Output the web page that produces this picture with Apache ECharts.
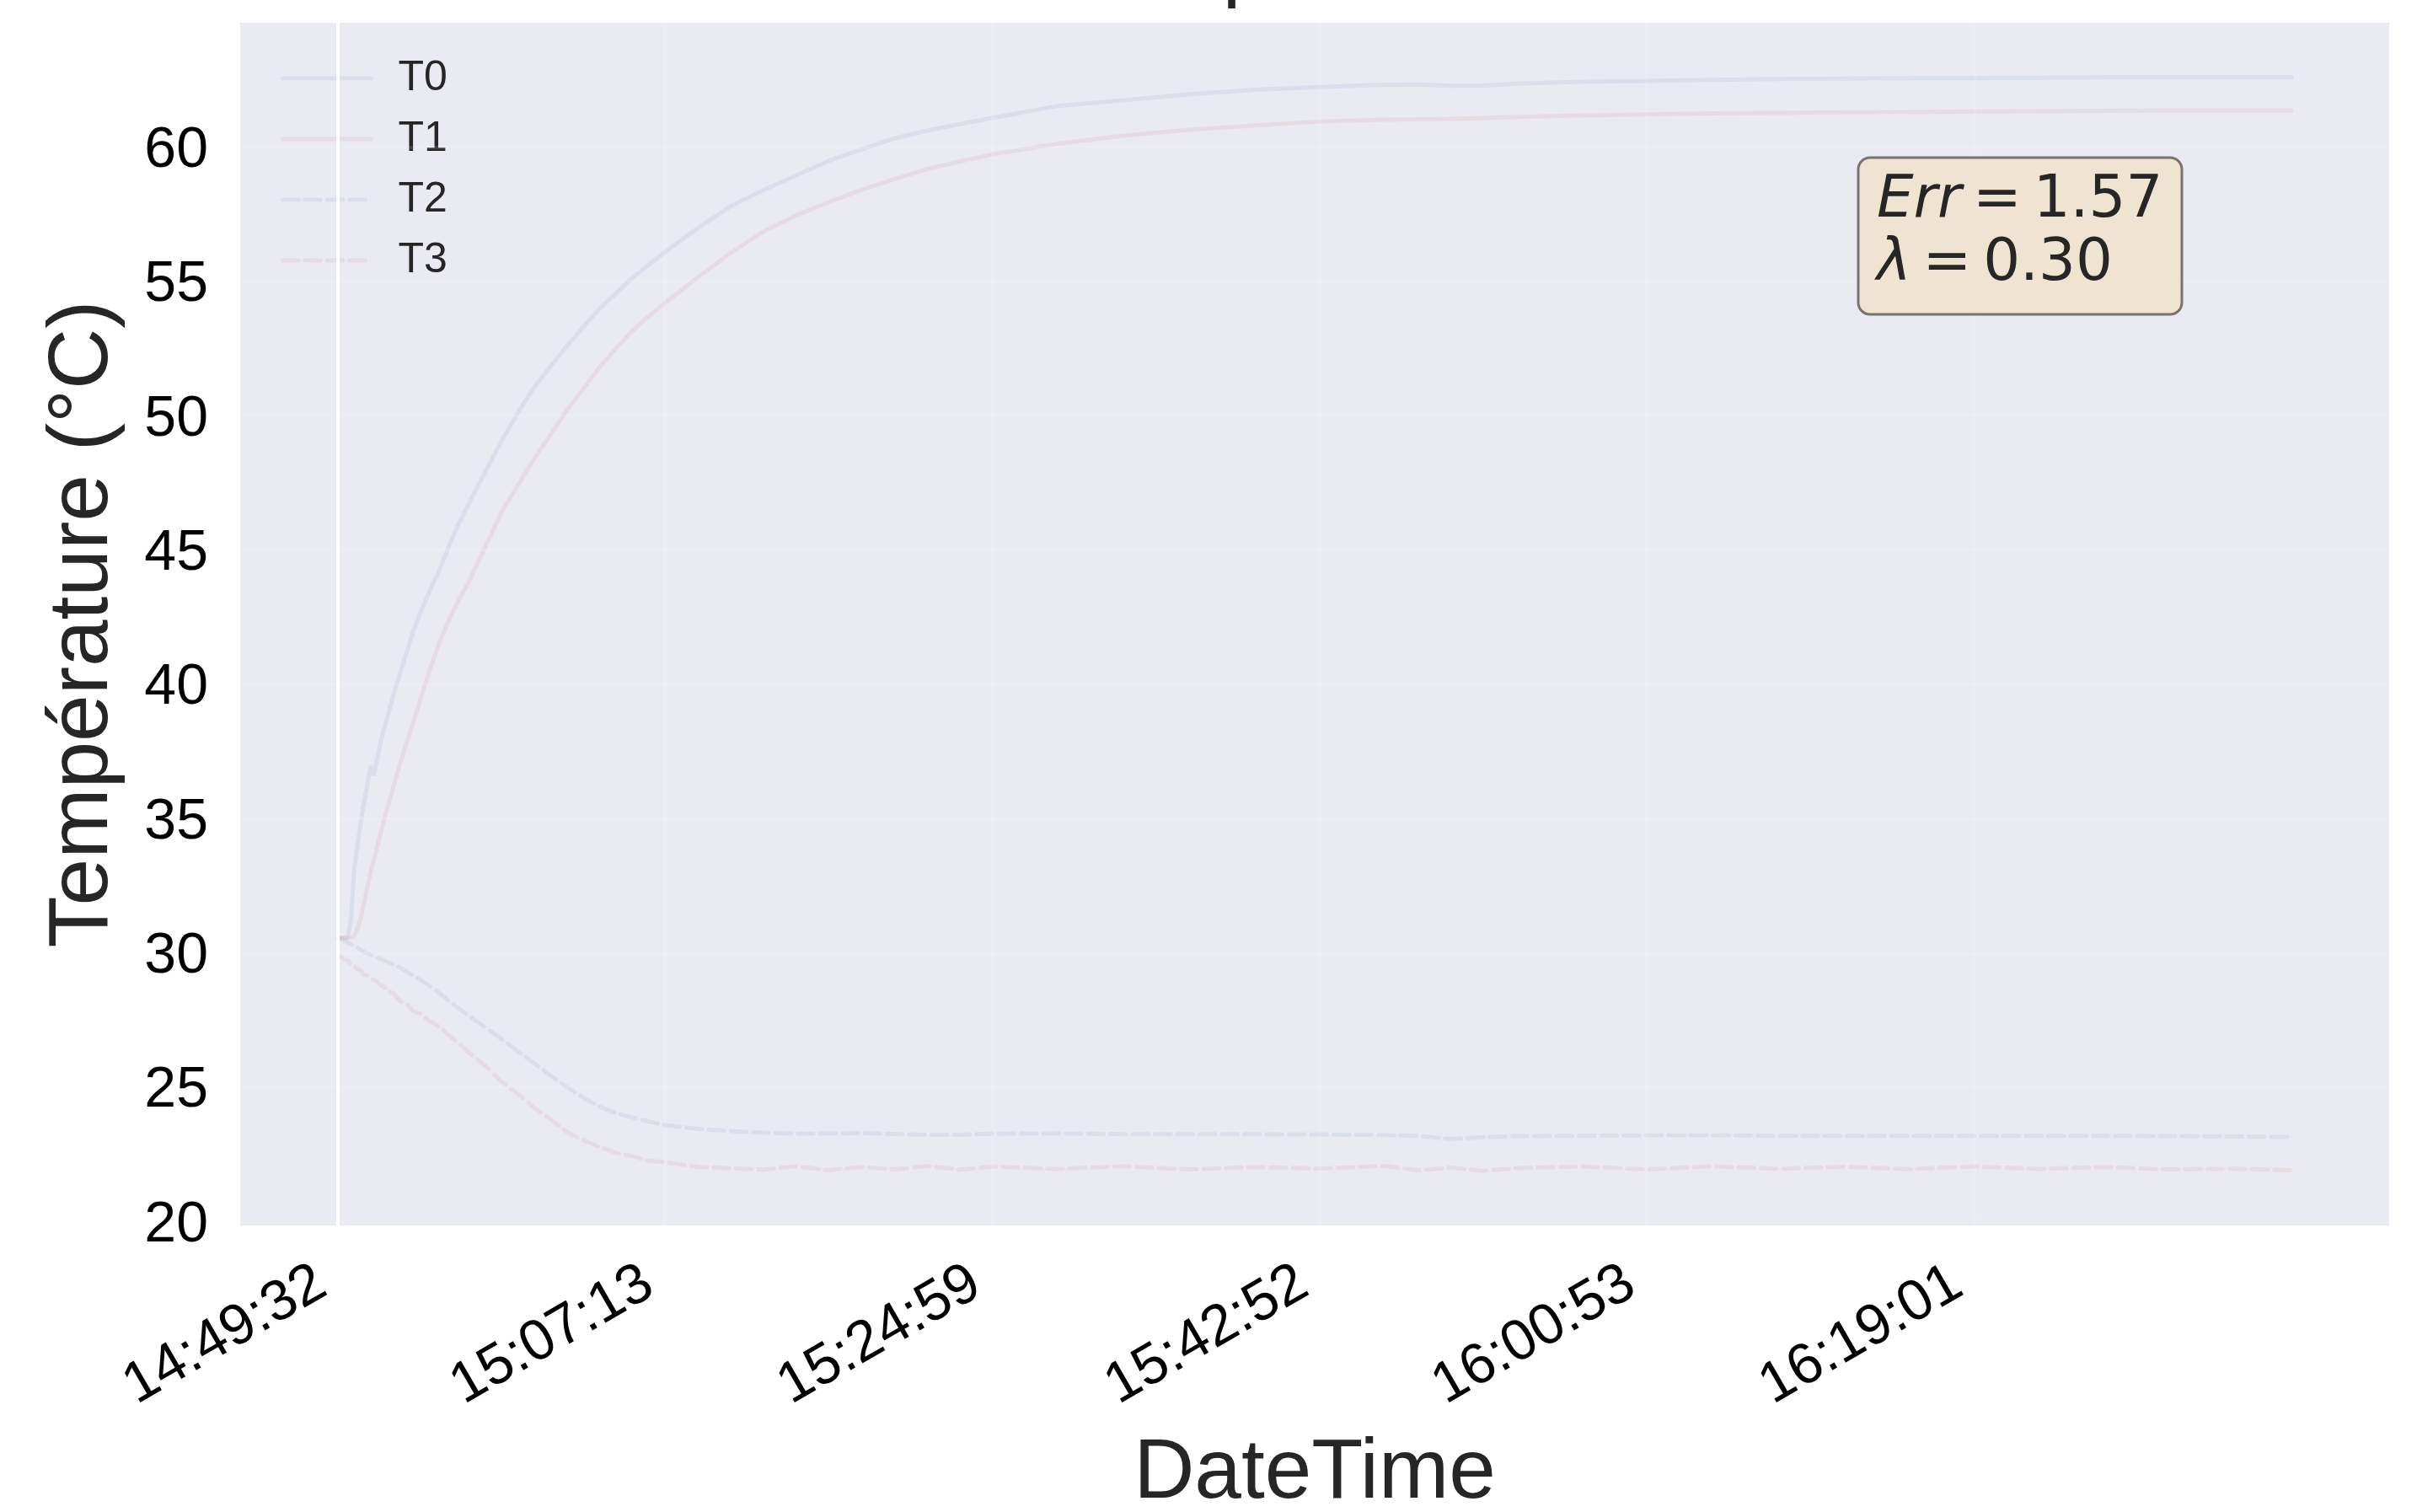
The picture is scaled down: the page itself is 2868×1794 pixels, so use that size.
<!DOCTYPE html>
<html>
<head>
<meta charset="utf-8">
<script src="https://cdn.jsdelivr.net/npm/echarts@6/dist/echarts.min.js"></script>
<style>
  html, body { margin: 0; padding: 0; background: #ffffff; }
  #chart { width: 2868px; height: 1794px; }
</style>
</head>
<body>
<div id="chart"></div>
<script>
// Sample index along the run (one tick label every 100 samples)
const sampleIdx = [0, 2, 3, 4, 5, 6, 7, 8, 9, 10,
  11, 12, 13, 14, 15, 17, 19, 21, 23, 25,
  28, 31, 34, 37, 40, 45, 50, 55, 60, 65,
  70, 75, 80, 85, 90, 95, 100, 110, 120, 130,
  140, 150, 160, 170, 180, 190, 200, 220, 240, 260,
  280, 300, 320, 330, 340, 350, 360, 380, 400, 420,
  440, 460, 480, 500, 520, 540, 560, 580, 597];

// Temperatures (°C)
const T0 = [30.55, 30.55, 30.55, 31.25, 33.1, 34.0, 34.85, 35.6, 36.25, 36.95,
  36.6, 37.2, 37.8, 38.3, 38.7, 39.6, 40.4, 41.2, 41.95, 42.6,
  43.45, 44.25, 45.15, 46.0, 46.72, 47.9, 49.05, 50.1, 51.06, 51.83,
  52.59, 53.3, 53.98, 54.55, 55.13, 55.62, 56.09, 56.98, 57.79, 58.39,
  58.94, 59.48, 59.91, 60.32, 60.61, 60.85, 61.08, 61.53, 61.74, 61.96,
  62.13, 62.23, 62.32, 62.33, 62.28, 62.29, 62.36, 62.43, 62.46, 62.5,
  62.53, 62.55, 62.56, 62.57, 62.58, 62.59, 62.59, 62.59, 62.59];

const T1 = [30.55, 30.55, 30.55, 30.56, 30.62, 30.9, 31.3, 31.85, 32.42, 33.0,
  33.45, 33.93, 34.42, 34.9, 35.33, 36.2, 37.03, 37.8, 38.57, 39.35,
  40.52, 41.55, 42.4, 43.15, 43.8, 45.1, 46.4, 47.4, 48.4, 49.3,
  50.2, 51.0, 51.8, 52.5, 53.15, 53.7, 54.2, 55.15, 56.05, 56.85,
  57.45, 57.95, 58.4, 58.8, 59.18, 59.46, 59.72, 60.12, 60.42, 60.64,
  60.8, 60.95, 61.02, 61.03, 61.05, 61.08, 61.12, 61.17, 61.21, 61.25,
  61.27, 61.29, 61.3, 61.32, 61.33, 61.35, 61.36, 61.36, 61.36];

const T2 = [30.55, 30.45, 30.38, 30.32, 30.25, 30.18, 30.11, 30.04, 29.97, 29.92,
  29.87, 29.82, 29.77, 29.72, 29.66, 29.55, 29.44, 29.3, 29.15, 29.0,
  28.77, 28.5, 28.2, 27.92, 27.65, 27.22, 26.79, 26.33, 25.88, 25.42,
  25.0, 24.6, 24.27, 24.02, 23.86, 23.72, 23.58, 23.44, 23.36, 23.3,
  23.26, 23.27, 23.28, 23.25, 23.22, 23.22, 23.26, 23.27, 23.24, 23.24,
  23.24, 23.23, 23.21, 23.18, 23.06, 23.13, 23.17, 23.18, 23.2, 23.2,
  23.18, 23.18, 23.18, 23.18, 23.18, 23.18, 23.17, 23.16, 23.14];

const T3 = [29.95, 29.75, 29.72, 29.55, 29.52, 29.38, 29.35, 29.18, 29.15, 29.05,
  28.98, 28.92, 28.78, 28.75, 28.6, 28.48, 28.2, 28.1, 27.82, 27.75,
  27.45, 27.25, 26.92, 26.62, 26.28, 25.8, 25.2, 24.75, 24.22, 23.8,
  23.32, 23.02, 22.76, 22.55, 22.42, 22.25, 22.2, 22.02, 21.98, 21.92,
  22.05, 21.9, 22.02, 21.93, 22.06, 21.92, 22.04, 21.95, 22.05, 21.93,
  22.02, 21.96, 22.06, 21.9, 22.0, 21.88, 21.98, 22.04, 21.93, 22.05,
  21.95, 22.03, 21.94, 22.04, 21.95, 22.02, 21.93, 21.96, 21.9];

const seriesNames = ['T0', 'T1', 'T2', 'T3'];
const tickIdx = [0, 100, 200, 300, 400, 500];
const tickLabels = ['14:49:32', '15:07:13', '15:24:59', '15:42:52', '16:00:53', '16:19:01'];
const yTicks = [20, 25, 30, 35, 40, 45, 50, 55, 60];
const errValue = '1.57';
const lambdaValue = '0.30';

// Axis limits: data range plus a 5 % margin on each side
const allY = T0.concat(T1, T2, T3);
const yLo = Math.min(...allY), yHi = Math.max(...allY);
const yPad = 0.05 * (yHi - yLo);
const xLo = sampleIdx[0], xHi = sampleIdx[sampleIdx.length - 1];
const xPad = 0.05 * (xHi - xLo);

const SANS = '"Liberation Sans", Arial, sans-serif';
const MATH = '"DejaVu Sans", sans-serif';
const pairs = vals => sampleIdx.map((x, i) => [x, vals[i]]);

const lineDefs = [
  { name: 'T0', values: T0, color: 'rgba(76,114,176,0.10)', type: 'solid' },
  { name: 'T1', values: T1, color: 'rgba(196,78,82,0.09)', type: 'solid' },
  { name: 'T2', values: T2, color: 'rgba(76,114,176,0.10)', type: [18.5, 8] },
  { name: 'T3', values: T3, color: 'rgba(196,78,82,0.09)', type: [18.5, 8] }
];

const chart = echarts.init(document.getElementById('chart'), null, { renderer: 'canvas' });

const gridLineData = tickIdx.slice(1).map(v => ({ xAxis: v }))
  .concat(yTicks.map(v => ({ yAxis: v })));

const thin = '\u2009';

chart.setOption({
  animation: false,
  backgroundColor: '#ffffff',
  grid: {
    left: 285, top: 27, width: 2550, height: 1427,
    show: true, backgroundColor: '#EAEAF2', borderWidth: 0,
    containLabel: false, outerBoundsMode: 'none'
  },
  xAxis: {
    type: 'value',
    min: xLo - xPad, max: xHi + xPad,
    axisLine: { show: false }, axisTick: { show: false }, splitLine: { show: false },
    axisLabel: {
      customValues: tickIdx,
      formatter: v => tickLabels[tickIdx.indexOf(v)],
      rotate: 30, margin: 53, padding: [0, 22, 0, 0],
      fontSize: 68, color: '#000000', fontFamily: SANS
    },
    name: 'DateTime', nameLocation: 'middle', nameGap: 245,
    nameTextStyle: { fontSize: 100, color: '#262626', fontFamily: SANS }
  },
  yAxis: {
    type: 'value',
    min: yLo - yPad, max: yHi + yPad,
    axisLine: { show: false }, axisTick: { show: false }, splitLine: { show: false },
    axisLabel: {
      customValues: yTicks, margin: 38,
      // a short spacer line above each value nudges the label onto its baseline
      formatter: v => '{s|}\n{v|' + v + '}',
      rich: {
        s: { lineHeight: 10, fontSize: 1 },
        v: { fontSize: 68, color: '#000000', fontFamily: SANS }
      },
      fontSize: 68, color: '#000000', fontFamily: SANS
    },
    name: 'Température (°C)', nameLocation: 'middle', nameRotate: 90, nameGap: 136,
    nameTextStyle: { fontSize: 100, color: '#262626', fontFamily: SANS }
  },
  legend: {
    data: seriesNames,
    orient: 'vertical', left: 328, top: 63,
    itemWidth: 105, itemHeight: 50, itemGap: 22,
    itemStyle: { opacity: 0 },
    lineStyle: { width: 5 },
    textStyle: { fontSize: 50, color: '#262626', fontFamily: SANS, padding: [0, 0, 0, 27], lineHeight: 50 }
  },
  graphic: [
    {
      type: 'text', x: 1564, y: 12, z: 10,
      style: {
        text: 'Températures', fontSize: 97, fontFamily: SANS, fill: '#262626',
        textAlign: 'center', textVerticalAlign: 'bottom', align: 'center', verticalAlign: 'bottom'
      }
    },
    {
      type: 'rect', z: 10,
      shape: { x: 2205, y: 187, width: 384, height: 186, r: 14 },
      style: { fill: '#EFE4D2', stroke: 'rgba(0,0,0,0.5)', lineWidth: 3 }
    },
    {
      type: 'text', x: 2227, y: 202, z: 11,
      style: {
        text: '{i|Err}' + thin + '=' + thin + errValue + '\n{i|λ}' + thin + '=' + thin + lambdaValue,
        fontSize: 69, fontFamily: MATH, fill: '#262626',
        lineHeight: 75, textVerticalAlign: 'top', verticalAlign: 'top',
        rich: {
          i: { fontSize: 69, fontFamily: MATH, fontStyle: 'italic', fill: '#262626', lineHeight: 75 }
        }
      }
    }
  ],
  series: [
    {
      name: 'grid', type: 'line', data: [], silent: true, z: 1,
      markLine: {
        silent: true, symbol: 'none', label: { show: false },
        lineStyle: { color: 'rgba(255,255,255,0.12)', width: 4, type: 'solid' },
        data: gridLineData.concat([{ xAxis: tickIdx[0], lineStyle: { color: '#ffffff', width: 4, opacity: 1 } }])
      }
    }
  ].concat(lineDefs.map(d => ({
    name: d.name, type: 'line', data: pairs(d.values),
    symbol: 'none', showSymbol: false, z: 3,
    color: d.color,
    lineStyle: { color: d.color, width: 5, type: d.type, cap: 'round' },
    emphasis: { disabled: true }
  })))
});
</script>
</body>
</html>
